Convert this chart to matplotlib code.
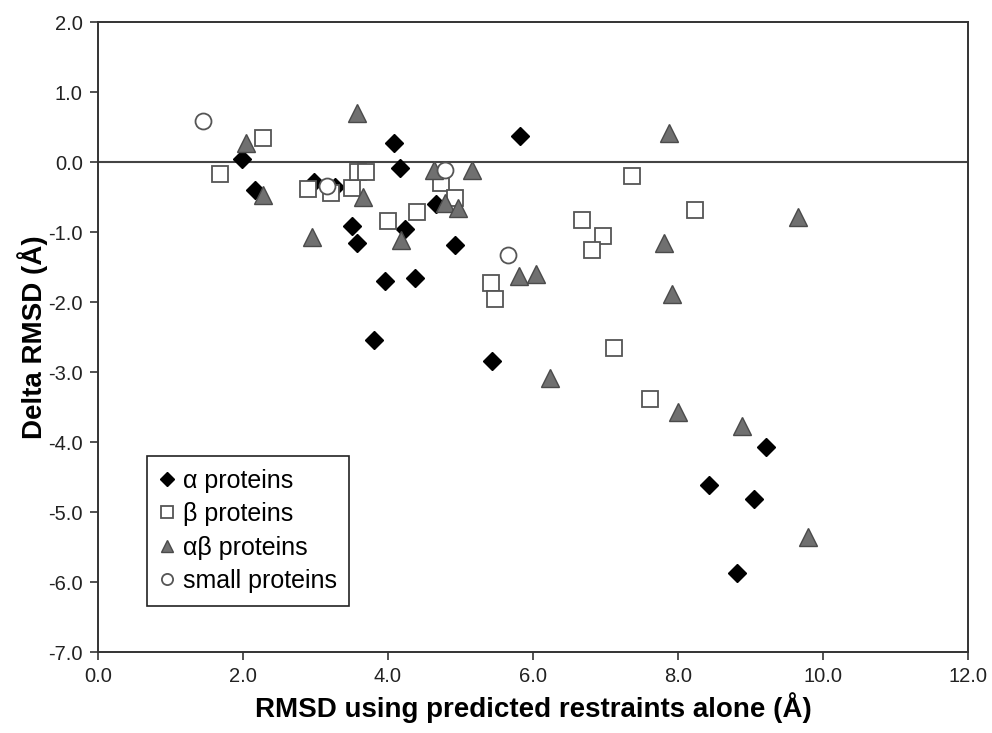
import matplotlib
matplotlib.use("Agg")
import matplotlib.pyplot as plt
from matplotlib.ticker import FormatStrFormatter

plt.rcParams['font.family'] = ['Liberation Sans', 'DejaVu Sans']

# alpha proteins (filled black diamonds)
alpha_x = [1.98, 2.16, 2.98, 3.27, 3.50, 3.57, 4.08, 4.17, 4.23, 3.96,
           4.37, 3.80, 4.66, 4.93, 5.82, 5.44, 8.43, 9.05, 9.21, 8.81]
alpha_y = [0.04, -0.40, -0.28, -0.36, -0.92, -1.15, 0.27, -0.09, -0.95, -1.70,
           -1.66, -2.54, -0.60, -1.18, 0.37, -2.84, -4.61, -4.81, -4.07, -5.87]

# beta proteins (open squares)
beta_x = [2.27, 1.68, 2.90, 3.21, 3.50, 3.59, 3.70, 4.00, 4.40, 4.73,
          4.93, 5.42, 5.47, 6.68, 6.96, 6.81, 7.37, 8.23, 7.12, 7.61]
beta_y = [0.34, -0.17, -0.39, -0.44, -0.37, -0.14, -0.14, -0.84, -0.72, -0.30,
          -0.52, -1.73, -1.95, -0.83, -1.05, -1.26, -0.20, -0.69, -2.65, -3.39]

# alpha/beta proteins (gray triangles)
ab_x = [2.04, 2.28, 3.57, 3.65, 2.95, 4.18, 4.64, 5.16, 4.78, 4.97,
        5.81, 6.04, 6.23, 7.88, 7.80, 7.92, 8.00, 8.88, 9.65, 9.79]
ab_y = [0.27, -0.47, 0.70, -0.50, -1.07, -1.11, -0.11, -0.12, -0.59, -0.65,
        -1.63, -1.60, -3.08, 0.41, -1.15, -1.89, -3.57, -3.77, -0.78, -5.36]

# small proteins (open circles)
small_x = [1.45, 3.16, 4.79, 5.66]
small_y = [0.59, -0.34, -0.12, -1.33]

fig = plt.figure(figsize=(9.92, 7.33), dpi=100)
ax = fig.add_axes([98 / 992, 81 / 733, 870 / 992, 630 / 733])

edge = '#555555'
ax.plot(alpha_x, alpha_y, linestyle='none', marker='D', markersize=9.5,
        markerfacecolor='black', markeredgecolor='black', label='α proteins', zorder=3)
ax.plot(beta_x, beta_y, linestyle='none', marker='s', markersize=11.5,
        markerfacecolor='white', markeredgecolor=edge, markeredgewidth=1.3,
        label='β proteins', zorder=3)
ax.plot(ab_x, ab_y, linestyle='none', marker='^', markersize=12.5,
        markerfacecolor='#707070', markeredgecolor='#4a4a4a', markeredgewidth=1.0,
        label='αβ proteins', zorder=3)
ax.plot(small_x, small_y, linestyle='none', marker='o', markersize=11.5,
        markerfacecolor='white', markeredgecolor=edge, markeredgewidth=1.3,
        label='small proteins', zorder=3)

ax.axhline(0, color='#444444', linewidth=1.5, zorder=2)

ax.set_xlim(0, 12)
ax.set_ylim(-7, 2)
ax.set_xticks(range(0, 13, 2))
ax.set_yticks(range(-7, 3))
ax.xaxis.set_major_formatter(FormatStrFormatter('%.1f'))
ax.yaxis.set_major_formatter(FormatStrFormatter('%.1f'))
ax.tick_params(direction='out', length=6, width=1.2, color='#333333',
               labelsize=14.5, labelcolor='#222222', pad=5)

for spine in ax.spines.values():
    spine.set_color('#333333')
    spine.set_linewidth(1.4)

ax.set_xlabel('RMSD using predicted restraints alone (Å)', fontsize=20,
              fontweight='bold', labelpad=4)
ax.set_ylabel('Delta RMSD (Å)', fontsize=20, fontweight='bold', labelpad=0)

leg = ax.legend(loc='upper left', bbox_to_anchor=(0.056, 0.311), borderaxespad=0,
                fancybox=False, edgecolor='#222222', fontsize=18, markerscale=0.7,
                handlelength=0.6, handletextpad=0.35, labelspacing=0.38,
                borderpad=0.5, framealpha=1)
leg.get_frame().set_linewidth(1.2)

fig.savefig('out.png', dpi=100)
